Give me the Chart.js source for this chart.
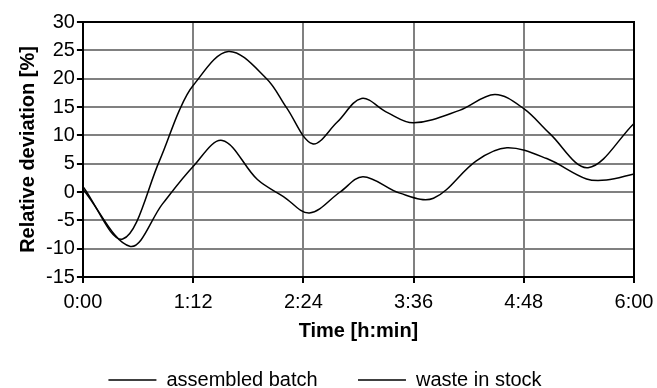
<!DOCTYPE html>
<html>
<head>
<meta charset="utf-8">
<script src="https://cdn.jsdelivr.net/npm/chart.js@4"></script>
<style>
  html, body { margin: 0; padding: 0; background: #fff; }
  #wrap { width: 657px; height: 388px; }
</style>
</head>
<body>
<div id="wrap"><canvas id="devChart"></canvas></div>
<script>
// minutes since start
const batchTimes = [0, 26, 50, 63, 72, 95, 120, 133, 150, 166, 182, 199, 216, 246, 269, 288, 305, 330, 360];
const batchValues = [1, -8.3, 5.5, 14.4, 18.8, 24.8, 20, 14.9, 8.5, 12.3, 16.5, 14.0, 12.2, 14.4, 17.2, 14.7, 10.3, 4.3, 12.1];

const stockTimes = [0, 31, 52, 72, 91, 114, 131, 148, 168, 183, 207, 229, 257, 277, 303, 329, 342, 360];
const stockValues = [0.5, -9.6, -2.1, 4.5, 9.1, 2.2, -0.8, -3.7, 0, 2.7, -0.2, -1.1, 5.5, 7.8, 5.9, 2.3, 2.1, 3.2];

const seriesNames = ["assembled batch", "waste in stock"];
const xTicks = [0, 72, 144, 216, 288, 360];
const yTicks = [-15, -10, -5, 0, 5, 10, 15, 20, 25, 30];

function toPoints(times, values) {
  return times.map((t, i) => ({ x: t, y: values[i] }));
}

function fmtTime(m) {
  const h = Math.floor(m / 60);
  const mm = Math.round(m % 60);
  return h + ":" + (mm < 10 ? "0" : "") + mm;
}

const frame = {
  id: "frame",
  afterDatasetsDraw(chart) {
    const { ctx, chartArea: a } = chart;
    ctx.save();
    ctx.strokeStyle = "#000";
    ctx.lineWidth = 2;
    ctx.beginPath();
    ctx.moveTo(a.left, a.top);
    ctx.lineTo(a.right, a.top);
    ctx.lineTo(a.right, a.bottom);
    ctx.stroke();
    ctx.restore();
  },
};

const font = "'Liberation Sans', Arial, sans-serif";

function line(label, data) {
  return {
    label: label,
    data: data,
    borderColor: "#000",
    borderWidth: 1.5,
    pointRadius: 0,
    tension: 0.35,
    pointStyle: "line",
  };
}

new Chart(document.getElementById("devChart"), {
  type: "line",
  data: {
    datasets: [
      line(seriesNames[0], toPoints(batchTimes, batchValues)),
      line(seriesNames[1], toPoints(stockTimes, stockValues)),
    ],
  },
  options: {
    responsive: true,
    maintainAspectRatio: false,
    animation: false,
    layout: { padding: { left: 16, right: 23, top: 22, bottom: -12 } },
    plugins: {
      legend: {
        position: "bottom",
        labels: {
          usePointStyle: true,
          pointStyleWidth: 48,
          color: "#000",
          font: { family: font, size: 20 },
          padding: 7,
          generateLabels(chart) {
            const items = Chart.defaults.plugins.legend.labels.generateLabels(chart);
            // wider gap between the two entries
            items.forEach((it, i) => {
              if (i < items.length - 1) it.text += "      ";
            });
            return items;
          },
        },
      },
      tooltip: { enabled: false },
    },
    scales: {
      x: {
        type: "linear",
        min: 0,
        max: 360,
        afterBuildTicks(scale) {
          scale.ticks = xTicks.map((v) => ({ value: v }));
        },
        afterFit(scale) {
          scale.paddingRight = 0;
        },
        grid: { color: "#808080", lineWidth: 2, tickColor: "#000", tickLength: 6 },
        border: { color: "#000", width: 2 },
        ticks: {
          color: "#000",
          font: { family: font, size: 20 },
          padding: 7,
          maxRotation: 0,
          autoSkip: false,
          callback: (v) => fmtTime(v),
        },
        title: {
          display: true,
          text: "Time [h:min]",
          color: "#000",
          font: { family: font, size: 20, weight: "bold" },
          padding: { top: -2, bottom: 20 },
        },
      },
      y: {
        min: -15,
        max: 30,
        afterBuildTicks(scale) {
          scale.ticks = yTicks.map((v) => ({ value: v }));
        },
        grid: { color: "#808080", lineWidth: 2, tickColor: "#000", tickLength: 6 },
        border: { color: "#000", width: 2 },
        ticks: {
          color: "#000",
          font: { family: font, size: 20 },
          padding: 2,
          autoSkip: false,
        },
        title: {
          display: true,
          text: "Relative deviation [%]",
          color: "#000",
          font: { family: font, size: 20, weight: "bold" },
          padding: { top: 0, bottom: 4 },
        },
      },
    },
  },
  plugins: [frame],
});
</script>
</body>
</html>
